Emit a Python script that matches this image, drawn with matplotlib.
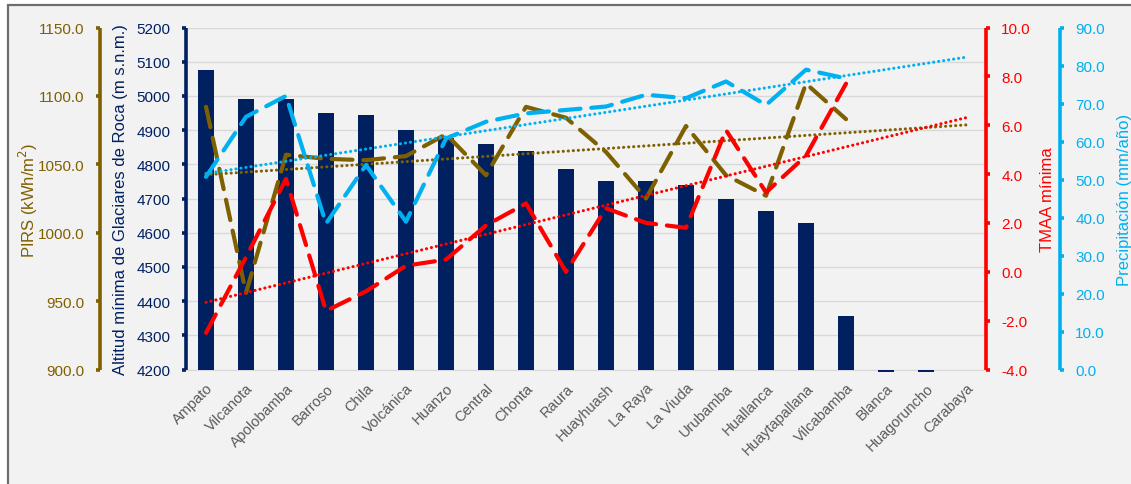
import numpy as np
import matplotlib.pyplot as plt
from matplotlib.patches import Rectangle

plt.rcParams['font.family'] = ['Liberation Sans', 'DejaVu Sans']

categories = ['Ampato', 'Vilcanota', 'Apolobamba', 'Barroso', 'Chila', 'Volcánica',
              'Huanzo', 'Central', 'Chonta', 'Raura', 'Huayhuash', 'La Raya',
              'La Viuda', 'Urubamba', 'Huallanca', 'Huaytapallana', 'Vilcabamba',
              'Blanca', 'Huagoruncho', 'Carabaya']
nan = np.nan
altitud = [5075, 4990, 4990, 4950, 4945, 4900, 4877, 4860, 4838, 4787, 4750, 4750,
           4740, 4700, 4662, 4628, 4357, 4193, 4193, nan]
pirs = [1092, 956, 1057, 1054, 1053, 1056, 1072, 1042, 1092, 1084, 1059, 1025,
        1078, 1042, 1027, 1109, 1083, nan, nan, nan]
tmaa = [-2.5, 0.6, 3.8, -1.6, -0.8, 0.25, 0.5, 1.9, 2.8, 0.0, 2.6, 2.0,
        1.8, 5.8, 3.25, 4.75, 7.7, nan, nan, nan]
precip = [50.7, 66.5, 72.0, 38.4, 53.8, 38.9, 60.8, 65.2, 67.4, 68.3, 69.2, 72.3,
          71.4, 75.8, 69.6, 78.9, 76.6, nan, nan, nan]

NAVY = '#002060'
OLIVE = '#7F6000'
RED = '#FF0000'
CYAN = '#00B0F0'
BG = '#F2F2F2'

W, H = 1131, 485
fig = plt.figure(figsize=(W / 100, H / 100), dpi=100, facecolor='white')
# panel background with grey frame
fig.patches.append(Rectangle((7.5 / W, -0.05), 1.1, (H - 5.5) / H + 0.05,
                             transform=fig.transFigure, facecolor=BG,
                             edgecolor='#6E6E6E', linewidth=1.6, zorder=-10))

ax = fig.add_axes([186 / W, 114.5 / H, 800 / W, 342 / H])
ax.set_facecolor(BG)
x = np.arange(len(categories))

# bars: altitude, drawn up from the axis floor
alt = np.array(altitud, dtype=float)
ax.bar(x, alt - 4200, bottom=4200, width=0.4, color=NAVY, clip_on=False, zorder=2.7)
ax.set_ylim(4200, 5200)
ax.set_yticks(np.arange(4200, 5201, 100))
ax.set_xlim(-0.5, len(categories) - 0.5)
ax.grid(axis='y', color='#D9D9D9', linewidth=1.0)
ax.set_axisbelow(True)
ax.set_xticks(x)
ax.set_xticklabels(categories, rotation=45, ha='right', rotation_mode='anchor',
                   color='#595959', fontsize=10.5)
ax.tick_params(axis='x', length=0, pad=8)

ax_p = ax.twinx()
ax_t = ax.twinx()
ax_c = ax.twinx()

ax_p.yaxis.set_ticks_position('left')
ax_p.spines['left'].set_position(('outward', 86 * 0.72))
ax_p.set_ylim(900, 1150)
ax_p.set_yticks(np.arange(900, 1151, 50))

ax_t.set_ylim(-4, 10)
ax_t.set_yticks(np.arange(-4, 10.1, 2))

ax_c.spines['right'].set_position(('outward', 74 * 0.72))
ax_c.set_ylim(0, 90)
ax_c.set_yticks(np.arange(0, 90.1, 10))

for a in (ax, ax_p, ax_t, ax_c):
    for s in a.spines.values():
        s.set_visible(False)
ax.spines['bottom'].set_visible(True)
ax.spines['bottom'].set_color('#D9D9D9')

for a, side, col in ((ax, 'left', NAVY), (ax_p, 'left', OLIVE),
                     (ax_t, 'right', RED), (ax_c, 'right', CYAN)):
    sp = a.spines[side]
    sp.set_visible(True)
    sp.set_color(col)
    sp.set_linewidth(2.6)
    sp.set_capstyle('butt')
    a.tick_params(axis='y', colors=col, width=2.6, length=3, pad=8, labelsize=11)

ax_p.yaxis.set_major_formatter(plt.FormatStrFormatter('%.1f'))
ax_t.yaxis.set_major_formatter(plt.FormatStrFormatter('%.1f'))
ax_c.yaxis.set_major_formatter(plt.FormatStrFormatter('%.1f'))

dash = dict(linewidth=3.0, dashes=(5, 2.6), dash_capstyle='round', solid_capstyle='round')
dot = dict(linewidth=2.2, dashes=(0.05, 1.6), dash_capstyle='round')

def trend(vals):
    v = np.array(vals, dtype=float)
    m = ~np.isnan(v)
    k, b = np.polyfit(x[m], v[m], 1)
    return k * x + b

ax_p.plot(x, pirs, color=OLIVE, zorder=3, **dash)
ax_p.plot(x, trend(pirs), color=OLIVE, zorder=3, **dot)
ax_c.plot(x, precip, color=CYAN, zorder=3, **dash)
ax_c.plot(x, trend(precip), color=CYAN, zorder=3, **dot)
ax_t.plot(x, tmaa, color=RED, zorder=3, **dash)
ax_t.plot(x, trend(tmaa), color=RED, zorder=3, **dot)

cy = (485 - 200) / H
fig.text(28 / W, cy, 'PIRS (kWh/m$^2$)', color=OLIVE, rotation=90,
         ha='center', va='center', fontsize=12)
fig.text(121 / W, cy, 'Altitud mínima de Glaciares de Roca (m s.n.m.)', color=NAVY,
         rotation=90, ha='center', va='center', fontsize=12)
fig.text(1048 / W, cy, 'TMAA mínima', color=RED, rotation=90,
         ha='center', va='center', fontsize=12)
fig.text(1124 / W, cy, 'Precipitación (mm/año)', color=CYAN, rotation=90,
         ha='center', va='center', fontsize=12)

fig.savefig('out.png', dpi=100, facecolor='white')
